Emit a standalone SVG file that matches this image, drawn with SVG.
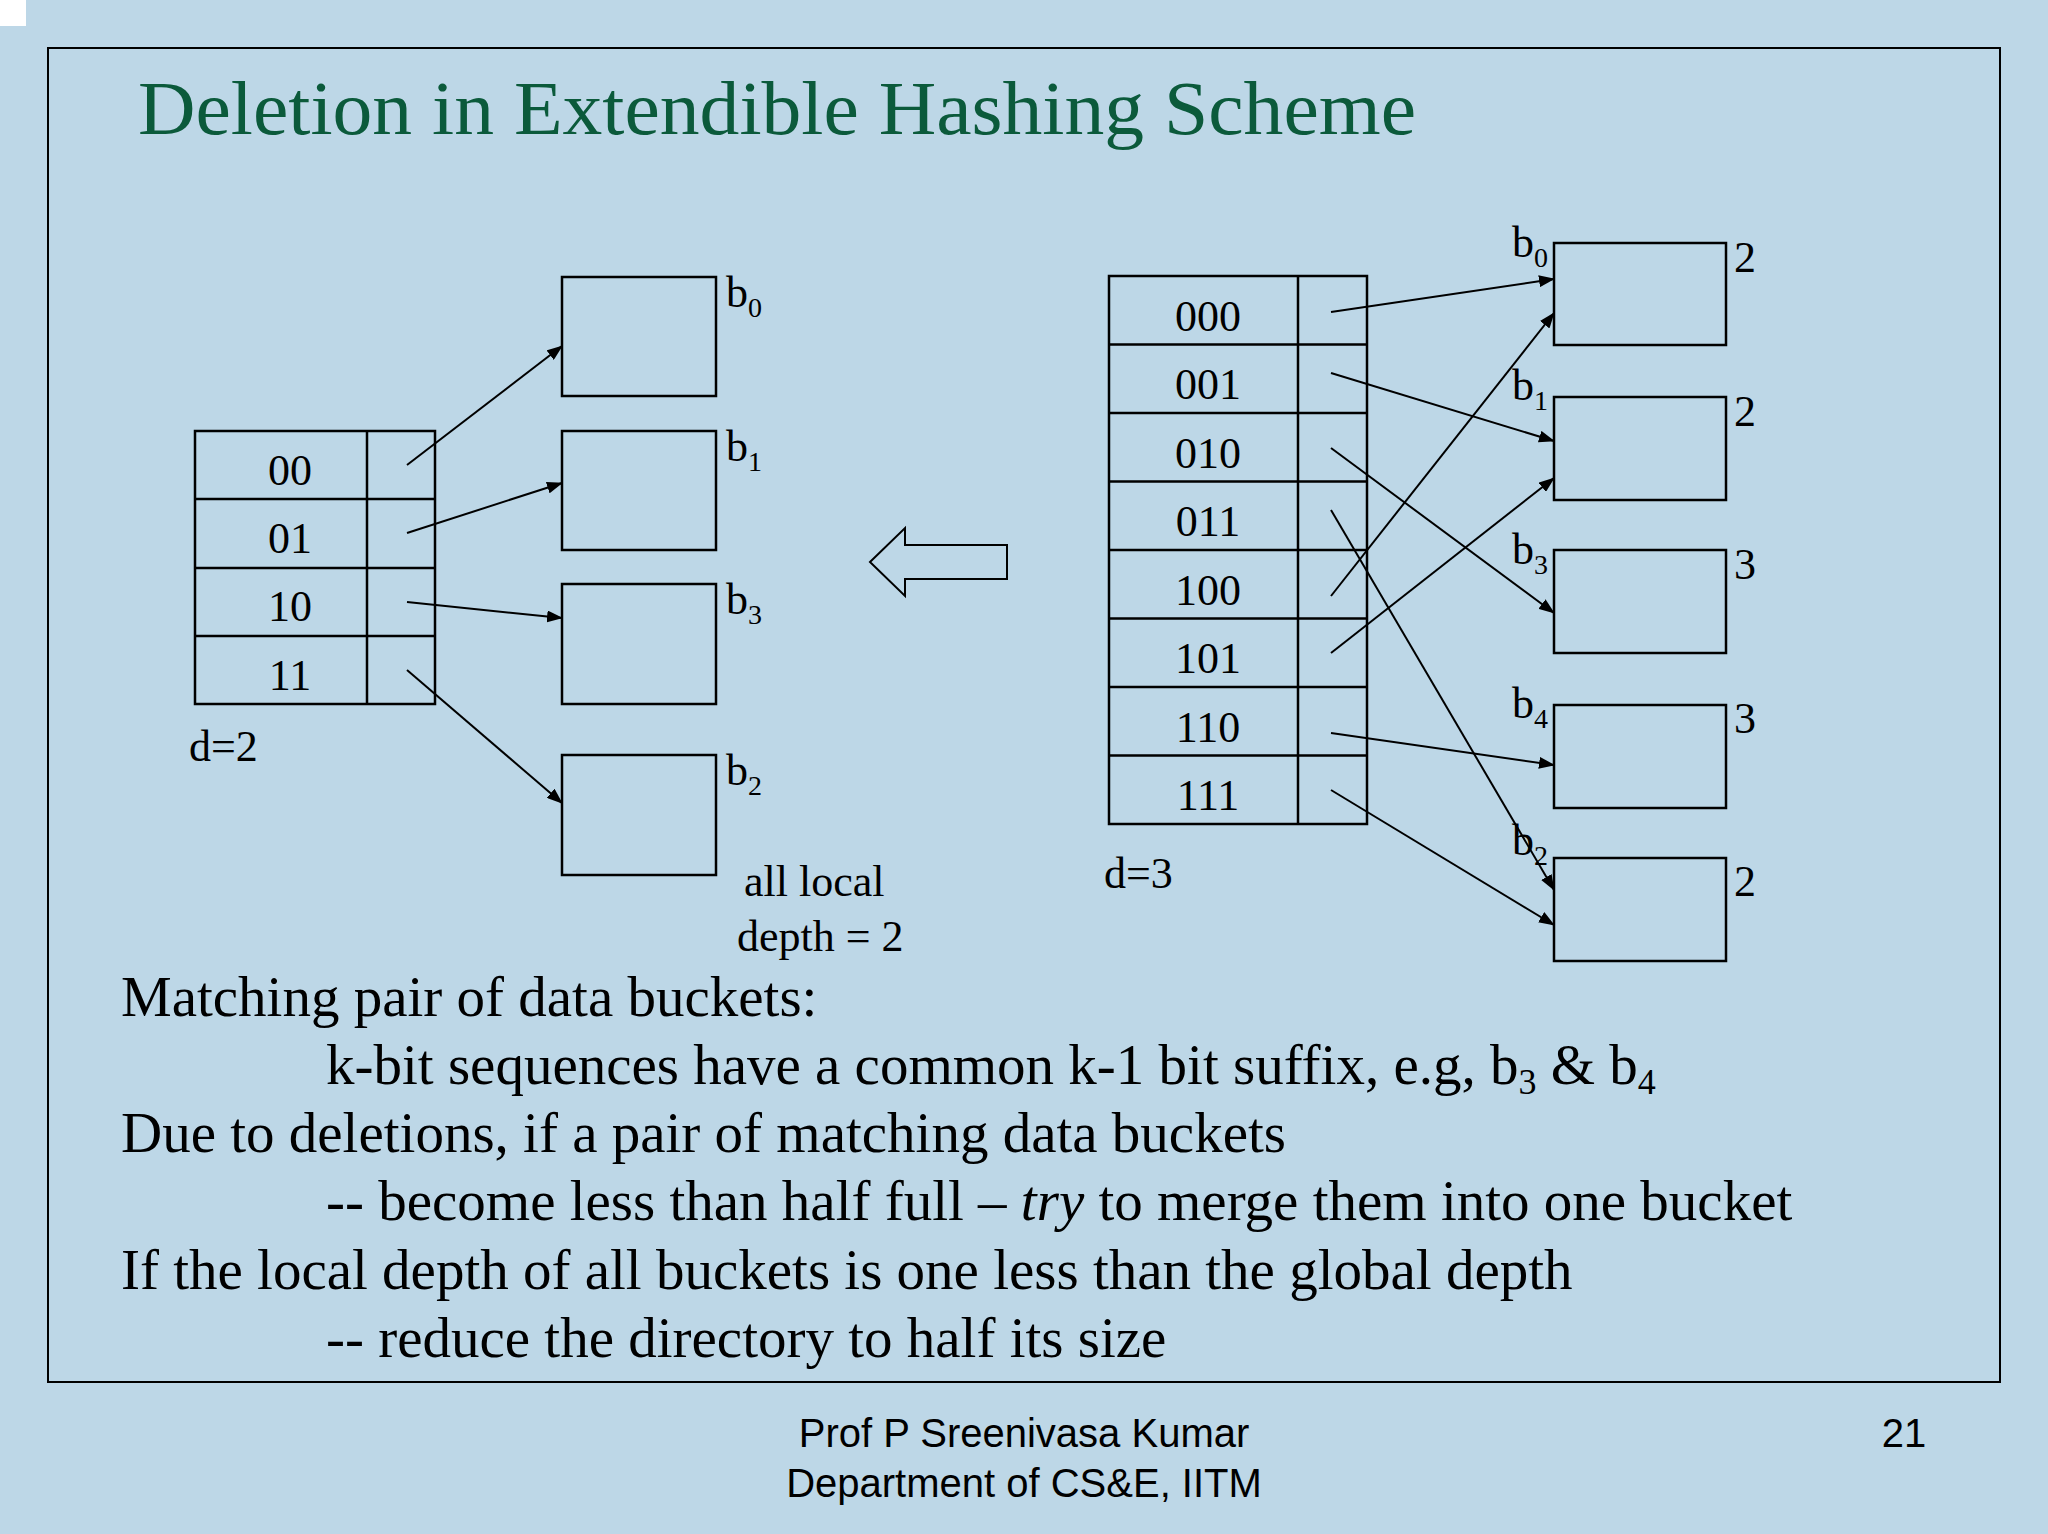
<svg xmlns="http://www.w3.org/2000/svg" width="2048" height="1534" viewBox="0 0 2048 1534">
<defs>
<marker id="ah" markerWidth="16" markerHeight="12" refX="15" refY="6" orient="auto" markerUnits="userSpaceOnUse" viewBox="0 0 16 12"><path d="M0,0 L16,6 L0,12 Z" fill="#000"/></marker>
<style>
.t{font-family:"Liberation Serif",serif;fill:#000}
.c{font-size:44px;text-anchor:middle}
.lb{font-size:44px}
.s{font-size:28px}
.box{fill:none;stroke:#000;stroke-width:2.5}
.ln{stroke:#000;stroke-width:2;fill:none;marker-end:url(#ah)}
.body{font-size:57px}
.f{font-family:"Liberation Sans",Arial,sans-serif;font-size:40px;fill:#000;text-anchor:middle}
</style>
</defs>
<rect width="2048" height="1534" fill="#bdd7e7"/>
<rect width="26" height="26" fill="#fff"/>
<rect x="48" y="48" width="1952" height="1334" fill="none" stroke="#000" stroke-width="2"/>
<text x="138" y="134" font-family="Liberation Serif,serif" font-size="76" fill="#0b5a3b" textLength="1278" lengthAdjust="spacingAndGlyphs">Deletion in Extendible Hashing Scheme</text>

<g id="dir2">
<rect class="box" x="195" y="431" width="240" height="273"/>
<line class="box" x1="367" y1="431" x2="367" y2="704"/>
<line class="box" x1="195" y1="499" x2="435" y2="499"/>
<line class="box" x1="195" y1="568" x2="435" y2="568"/>
<line class="box" x1="195" y1="636" x2="435" y2="636"/>
<text class="t c" x="290" y="485">00</text>
<text class="t c" x="290" y="553">01</text>
<text class="t c" x="290" y="621">10</text>
<text class="t c" x="290" y="690">11</text>
<text class="t lb" x="189" y="761">d=2</text>
</g>
<g id="lb0"><rect class="box" x="562" y="277" width="154" height="119"/><text class="t lb" x="726" y="307">b<tspan class="s" dy="10">0</tspan></text></g>
<g id="lb1"><rect class="box" x="562" y="431" width="154" height="119"/><text class="t lb" x="726" y="461">b<tspan class="s" dy="10">1</tspan></text></g>
<g id="lb3"><rect class="box" x="562" y="584" width="154" height="120"/><text class="t lb" x="726" y="614">b<tspan class="s" dy="10">3</tspan></text></g>
<g id="lb2"><rect class="box" x="562" y="755" width="154" height="120"/><text class="t lb" x="726" y="785">b<tspan class="s" dy="10">2</tspan></text></g>
<g id="note"><text class="t lb" x="744" y="896">all local</text><text class="t lb" x="737" y="951">depth = 2</text></g>

<g id="bigarrow"><path d="M870,562 L905,528 L905,545 L1007,545 L1007,579 L905,579 L905,596 Z" fill="none" stroke="#000" stroke-width="2"/></g>

<g id="dir3">
<rect class="box" x="1109" y="276" width="258" height="548"/>
<line class="box" x1="1298" y1="276" x2="1298" y2="824"/>
<line class="box" x1="1109" y1="344.5" x2="1367" y2="344.5"/>
<line class="box" x1="1109" y1="413" x2="1367" y2="413"/>
<line class="box" x1="1109" y1="481.5" x2="1367" y2="481.5"/>
<line class="box" x1="1109" y1="550" x2="1367" y2="550"/>
<line class="box" x1="1109" y1="618.5" x2="1367" y2="618.5"/>
<line class="box" x1="1109" y1="687" x2="1367" y2="687"/>
<line class="box" x1="1109" y1="755.5" x2="1367" y2="755.5"/>
<text class="t c" x="1208" y="331">000</text>
<text class="t c" x="1208" y="399">001</text>
<text class="t c" x="1208" y="468">010</text>
<text class="t c" x="1208" y="536">011</text>
<text class="t c" x="1208" y="605">100</text>
<text class="t c" x="1208" y="673">101</text>
<text class="t c" x="1208" y="742">110</text>
<text class="t c" x="1208" y="810">111</text>
<text class="t lb" x="1104" y="888">d=3</text>
</g>
<g id="rb0"><rect class="box" x="1554" y="243" width="172" height="102"/><text class="t lb" x="1512" y="257">b<tspan class="s" dy="10">0</tspan></text><text class="t lb" x="1734" y="272">2</text></g>
<g id="rb1"><rect class="box" x="1554" y="397" width="172" height="103"/><text class="t lb" x="1512" y="400">b<tspan class="s" dy="10">1</tspan></text><text class="t lb" x="1734" y="426">2</text></g>
<g id="rb3"><rect class="box" x="1554" y="550" width="172" height="103"/><text class="t lb" x="1512" y="564">b<tspan class="s" dy="10">3</tspan></text><text class="t lb" x="1734" y="579">3</text></g>
<g id="rb4"><rect class="box" x="1554" y="705" width="172" height="103"/><text class="t lb" x="1512" y="718">b<tspan class="s" dy="10">4</tspan></text><text class="t lb" x="1734" y="733">3</text></g>
<g id="rb2"><rect class="box" x="1554" y="858" width="172" height="103"/><text class="t lb" x="1512" y="855">b<tspan class="s" dy="10">2</tspan></text><text class="t lb" x="1734" y="896">2</text></g>

<g id="connectors">
<line class="ln" x1="407" y1="465" x2="562" y2="346"/>
<line class="ln" x1="407" y1="533" x2="562" y2="483"/>
<line class="ln" x1="407" y1="602" x2="562" y2="618"/>
<line class="ln" x1="407" y1="670" x2="562" y2="803"/>
<line class="ln" x1="1331" y1="312" x2="1554" y2="279"/>
<line class="ln" x1="1331" y1="373" x2="1554" y2="441"/>
<line class="ln" x1="1331" y1="448" x2="1554" y2="613"/>
<line class="ln" x1="1331" y1="510" x2="1554" y2="890"/>
<line class="ln" x1="1331" y1="596" x2="1554" y2="313"/>
<line class="ln" x1="1331" y1="653" x2="1554" y2="478"/>
<line class="ln" x1="1331" y1="733" x2="1554" y2="765"/>
<line class="ln" x1="1331" y1="790" x2="1554" y2="925"/>
</g>

<g id="bodytext">
<text class="t body" x="121" y="1016">Matching pair of data buckets:</text>
<text class="t body" x="326" y="1084">k-bit sequences have a common k-1 bit suffix, e.g, b<tspan font-size="36" dy="10">3</tspan><tspan dy="-10"> &amp; b</tspan><tspan font-size="36" dy="10">4</tspan></text>
<text class="t body" x="121" y="1152">Due to deletions, if a pair of matching data buckets</text>
<text class="t body" x="326" y="1220">-- become less than half full – <tspan font-style="italic">try</tspan> to merge them into one bucket</text>
<text class="t body" x="121" y="1289">If the local depth of all buckets is one less than the global depth</text>
<text class="t body" x="326" y="1357">-- reduce the directory to half its size</text>
</g>
<g id="footer">
<text class="f" x="1024" y="1447">Prof P Sreenivasa Kumar</text>
<text class="f" x="1024" y="1497">Department of CS&amp;E, IITM</text>
<text class="f" x="1904" y="1447">21</text>
</g>
</svg>
